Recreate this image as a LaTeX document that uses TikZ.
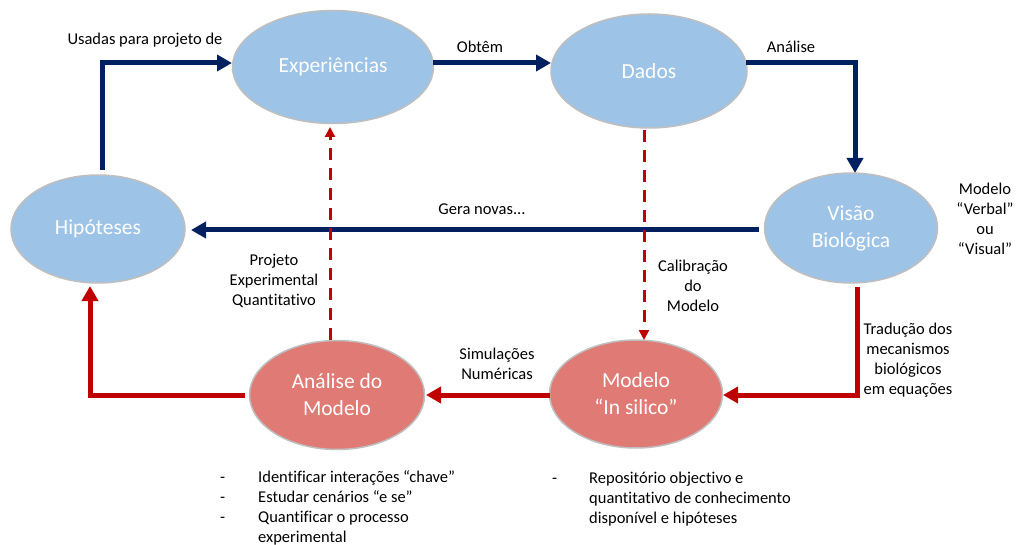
\documentclass[tikz,border=0pt]{standalone}
\usepackage{fontspec}
\setmainfont[Ligatures={NoCommon}]{Carlito}
\usetikzlibrary{arrows.meta,calc,shapes.geometric}
\definecolor{navy}{RGB}{0,32,96}
\definecolor{dred}{RGB}{192,0,0}
\definecolor{lblue}{RGB}{157,195,230}
\definecolor{lred}{RGB}{224,122,116}
\begin{document}
\begin{tikzpicture}[x=1pt,y=-1pt,
 ell/.style={ellipse, draw=black!25, line width=1.5pt, text=white, font=\fontsize{21.5}{27}\selectfont, align=center, inner sep=0pt},
 bl/.style={ell, fill=lblue},
 rd/.style={ell, fill=lred},
 lbl/.style={font=\fontsize{16.5}{20}\selectfont, align=center, text=black},
 bul/.style={font=\fontsize{16.5}{20}\selectfont, text=black, anchor=base west, inner sep=0pt},
 barrow/.style={navy, line width=5pt, -{Triangle[length=15pt,width=16pt]}},
 rarrow/.style={dred, line width=5pt, -{Triangle[length=15pt,width=16pt]}},
 darrow/.style={dred, line width=3pt, dash pattern=on 12pt off 8pt, -{Triangle[length=10pt,width=10pt]}}]
\useasboundingbox[fill=white] (0,0) rectangle (1027,545);

% ellipses
\node[bl, minimum width=201pt, minimum height=113pt] (exp) at (333,67) {Experiências};
\node[bl, minimum width=196pt, minimum height=114pt] (dad) at (649,71) {Dados};
\node[bl, minimum width=174pt, minimum height=108pt] (hip) at (98,229) {Hipóteses};
\node[bl, minimum width=173pt, minimum height=110pt] (vis) at (851,228) {Visão\\Biológica};
\node[rd, minimum width=175pt, minimum height=109pt] (ana) at (337,395) {Análise do\\Modelo};
\node[rd, minimum width=173pt, minimum height=108pt] (mod) at (636,394) {Modelo\\“In silico”};

% coordinates for connector ends
\coordinate (h1) at (102,170);
\coordinate (e1) at (232,63);
\coordinate (e2) at (433,63);
\coordinate (d1) at (551,63);
\coordinate (d2) at (746,63);
\coordinate (v1) at (855,173);
\coordinate (v2) at (759,230);
\coordinate (h2) at (191,230);
\coordinate (v3) at (857,287);
\coordinate (m1) at (723,395);
\coordinate (m2) at (550,395);
\coordinate (a1) at (426,395);
\coordinate (a2) at (245,395);
\coordinate (h3) at (90,286);
\coordinate (d3) at (644,130);
\coordinate (m3) at (644,340);
\coordinate (a3) at (330,340);
\coordinate (e3) at (330,127);

% blue connectors
\draw[barrow] (h1) |- (e1);
\draw[barrow] (e2) -- (d1);
\draw[barrow] (d2) -| (v1);
\draw[barrow] (v2) -- (h2);
% red connectors
\draw[rarrow] (v3) |- (m1);
\draw[rarrow] (m2) -- (a1);
\draw[rarrow] (a2) -| (h3);
% dashed
\draw[darrow] (d3) -- (m3);
\draw[darrow] (a3) -- (e3);

% labels
\node[lbl] (l1) at (145,40) {Usadas para projeto de};
\node[lbl] (l2) at (480,47) {Obtêm};
\node[lbl] (l3) at (791,47) {Análise};
\node[lbl] (l4) at (482,209) {Gera novas...};
\node[lbl] (l5) at (985,219) {Modelo\\“Verbal”\\ou\\“Visual”};
\node[lbl] (l6) at (693,286) {Calibração\\do\\Modelo};
\node[lbl] (l7) at (274,281) {Projeto\\Experimental\\Quantitativo};
\node[lbl] (l8) at (497,364) {Simulações\\Numéricas};
\node[lbl] (l9) at (908,360) {Tradução dos\\mecanismos\\biológicos\\em equações};

% bullets
\node[bul] (b1d) at (220,482) {-};
\node[bul] (b1) at (258,482) {Identificar interações “chave”};
\node[bul] (b2d) at (220,502) {-};
\node[bul] (b2) at (258,502) {Estudar cenários “e se”};
\node[bul] (b3d) at (220,522) {-};
\node[bul] (b3) at (258,522) {Quantificar o processo};
\node[bul] (b4) at (258,542) {experimental};
\node[bul] (c1d) at (552,483) {-};
\node[bul] (c1) at (589,483) {Repositório objectivo e};
\node[bul] (c2) at (589,503) {quantitativo de conhecimento};
\node[bul] (c3) at (589,523) {disponível e hipóteses};
\end{tikzpicture}
\end{document}
